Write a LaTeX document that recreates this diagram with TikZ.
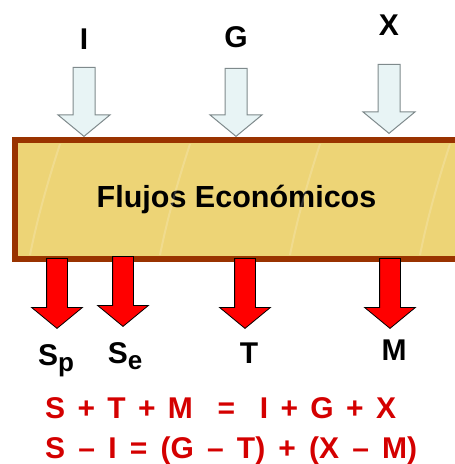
\documentclass[tikz,border=0pt]{standalone}
\usepackage{fontspec}
\setmainfont{Liberation Sans}
\usepackage{xcolor}
\usetikzlibrary{shapes.arrows, positioning}

\definecolor{woodfill}{HTML}{EDD476}
\definecolor{woodedge}{HTML}{993300}
\definecolor{inflowfill}{HTML}{E8F4F5}
\definecolor{inflowedge}{HTML}{7F8A8C}
\definecolor{eqred}{HTML}{D40000}

\newcommand{\flowsub}[1]{\raisebox{-6pt}{\fontsize{26}{26}\selectfont #1}}

\begin{document}
\begin{tikzpicture}[
			x=1pt, y=-1pt,
			box/.style={rectangle, draw=woodedge, line width=6pt, fill=woodfill,
				minimum width=443pt, minimum height=119pt, inner sep=0pt,
				font=\fontsize{30.5}{36}\selectfont\bfseries},
			flow/.style={single arrow, shape border rotate=270, inner sep=10.5pt,
				minimum height=69pt,
				single arrow head extend=15pt, single arrow tip angle=101},
			inflow/.style={flow, draw=inflowedge, line width=1pt, fill=inflowfill},
			outflow/.style={flow, minimum height=70pt, inner sep=10pt,
				draw=black, line width=0.8pt, fill=red},
			lbl/.style={font=\fontsize{30}{36}\selectfont\bfseries, inner sep=0pt},
			eq/.style={font=\fontsize{30}{36}\selectfont\bfseries, text=eqred,
				inner sep=0pt, anchor=base west}
			]
			\useasboundingbox (0,0) rectangle (455,464);
			
			\node[box] (flujos) at (236.5,199.5) {Flujos Económicos};
			% wood grain
			\foreach \dx in {0,130,260,390}
				\draw[white, opacity=0.18, line width=2pt]
					(60+\dx,144) .. controls (45+\dx,190) and (36+\dx,225) .. (30+\dx,255);
			
			\node[inflow, anchor=tip] (fI) at (84,137) {};
			\node[inflow, anchor=tip, minimum height=68pt] (fG) at (236,137) {};
			\node[inflow, anchor=tip] (fX) at (389,134) {};
			
			\node[outflow, anchor=tail] (fSp) at (57,258) {};
			\node[outflow, anchor=tail] (fSe) at (123,256) {};
			\node[outflow, anchor=tail] (fT) at (245,258) {};
			\node[outflow, anchor=tail] (fM) at (390,258) {};
			
			\node[lbl, above=17pt of fI.tail, anchor=base] (lI) {I};
			\node[lbl, above=20pt of fG.tail, anchor=base] (lG) {G};
			\node[lbl, above=28pt of fX.tail, anchor=base] (lX) {X};
			
			\node[lbl, below=37pt of fSp.tip, anchor=base, xshift=-1pt] (lSp) {S\flowsub{p}};
			\node[lbl, below=37pt of fSe.tip, anchor=base, xshift=2pt] (lSe) {S\flowsub{e}};
			\node[lbl, below=35pt of fT.tip, anchor=base, xshift=4pt] (lT) {T};
			\node[lbl, below=32pt of fM.tip, anchor=base, xshift=4pt] (lM) {M};
			
			\node[eq] (eq1) at (45,418) {\spaceskip=12.35pt S + T + M \ = \ I + G + X};
			\node[eq] (eq2) at (45,458) {\spaceskip=13.2pt S – I = (G – T) + (X – M)};
		\end{tikzpicture}
\end{document}
